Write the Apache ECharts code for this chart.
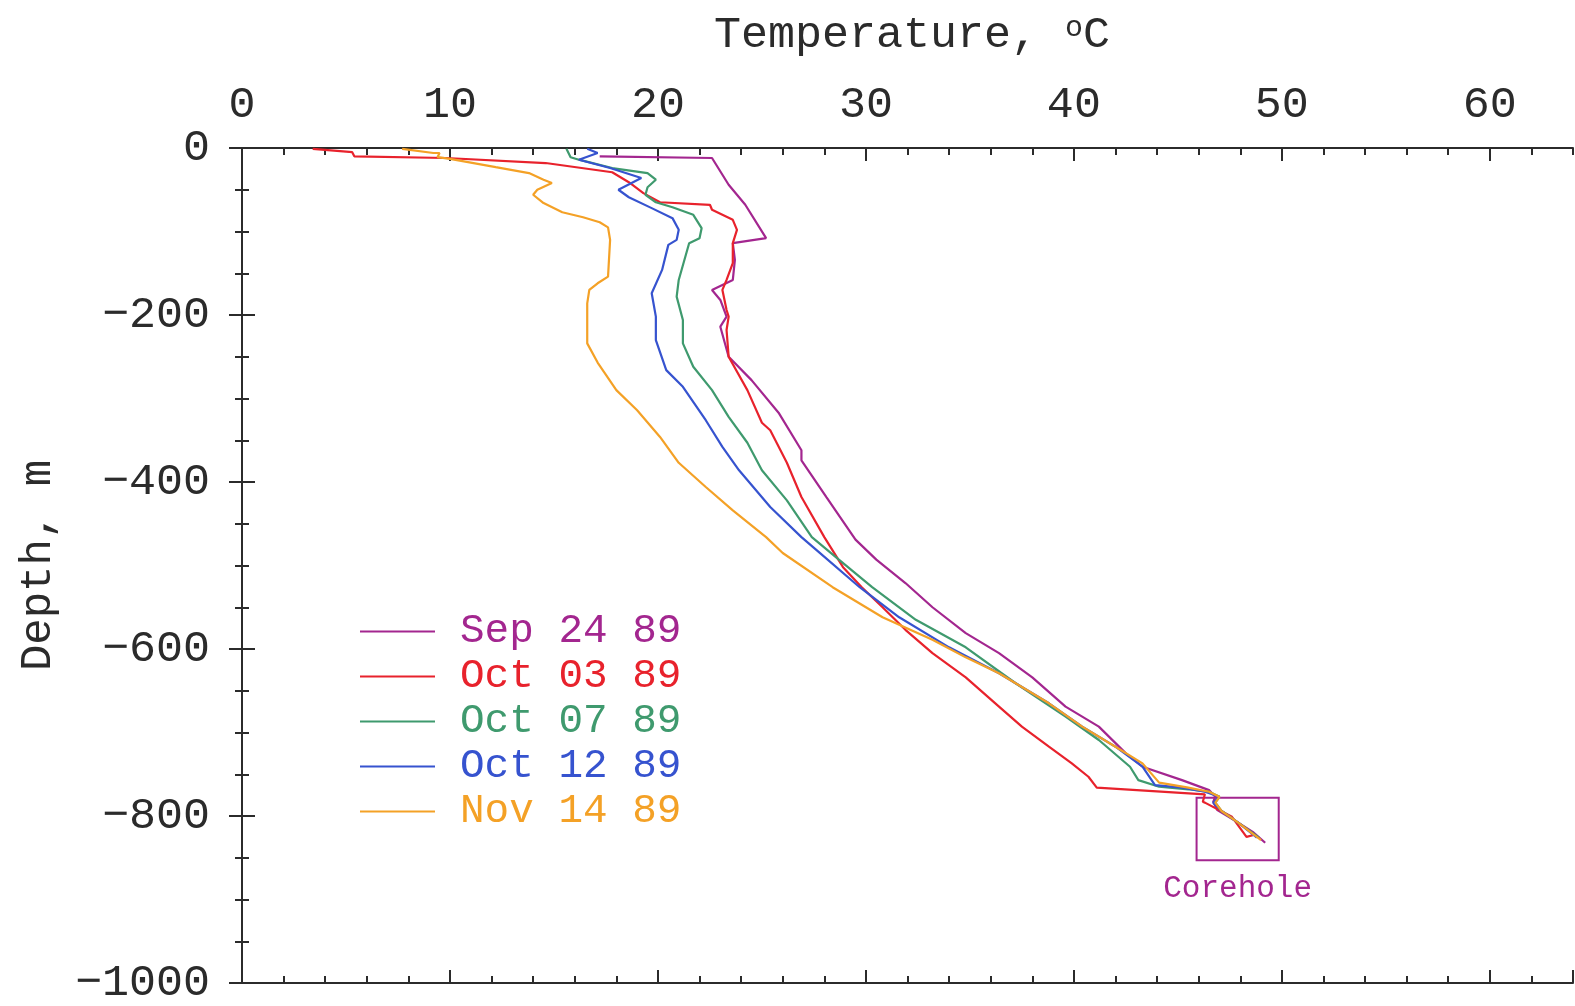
<!DOCTYPE html>
<html>
<head>
<meta charset="utf-8">
<script src="https://cdn.jsdelivr.net/npm/echarts@6/dist/echarts.min.js"></script>
<style>
  html, body { margin: 0; padding: 0; background: #fff; }
  #chart { width: 1575px; height: 1006px; }
</style>
</head>
<body>
<div id="chart"></div>
<script>
// temperature (C), depth (m) pairs
var sep24 = [[17.2,-10],[22.6,-12],[23.4,-44],[24.2,-68],[25.2,-108],[23.6,-114],[23.7,-134],[23.6,-158],
  [22.6,-170],[23.0,-182],[23.3,-202],[23.0,-214],[23.4,-250],[24.5,-278],[25.8,-317],[26.9,-362],[26.9,-374],
  [28.1,-418],[29.5,-469],[30.5,-493],[31.9,-521],[33.2,-550],[34.8,-581],[36.4,-605],[38.0,-634],[39.6,-669],
  [41.2,-693],[42.5,-725],[43.3,-741],[45.2,-757],[46.5,-769],[46.8,-777],[46.7,-783],[46.9,-793],[47.9,-808],
  [48.6,-819],[49.2,-832]];
var oct03 = [[3.4,-1],[5.3,-5],[5.4,-10],[9.8,-12],[14.6,-18],[17.8,-29],[18.6,-41],[19.3,-54],[20.1,-65],
  [22.5,-68],[22.6,-74],[23.6,-86],[23.8,-98],[23.6,-114],[23.6,-138],[23.3,-158],[23.1,-170],[23.3,-194],
  [23.4,-202],[23.3,-218],[23.4,-250],[24.3,-290],[25.0,-329],[25.4,-338],[26.2,-377],[26.9,-418],[28.0,-466],
  [28.9,-502],[29.8,-526],[30.8,-550],[31.9,-577],[33.2,-605],[34.8,-634],[36.4,-669],[37.5,-693],[38.8,-717],
  [39.9,-737],[40.7,-753],[41.1,-766],[46.3,-774],[46.2,-783],[46.3,-784],[47.6,-801],[48.3,-825],[48.6,-823]];
var oct07 = [[15.6,-1],[15.8,-11],[16.2,-14],[17.8,-24],[19.5,-30],[19.9,-38],[19.5,-47],[19.4,-56],[19.9,-65],
  [20.7,-71],[21.7,-80],[22.1,-96],[22.0,-108],[21.5,-114],[21.0,-158],[20.9,-178],[21.2,-206],[21.2,-234],
  [21.7,-262],[22.6,-290],[23.4,-322],[24.3,-353],[25.0,-386],[26.2,-422],[27.4,-466],[28.7,-493],[30.3,-526],
  [32.4,-565],[34.8,-598],[37.2,-641],[39.6,-681],[41.2,-709],[42.7,-741],[43.1,-757],[44.1,-765],[45.5,-768],
  [46.5,-771],[47.0,-777],[46.8,-784],[47.1,-794],[47.9,-808],[48.9,-826]];
var oct12 = [[16.6,-1],[17.1,-6],[16.2,-14],[17.7,-24],[19.2,-36],[18.1,-50],[18.6,-59],[19.7,-72],[20.7,-84],
  [21.0,-98],[20.9,-110],[20.5,-116],[20.2,-146],[19.7,-174],[19.9,-202],[19.9,-230],[20.4,-266],[21.2,-286],
  [22.3,-326],[23.1,-358],[23.9,-386],[25.4,-430],[26.9,-466],[27.6,-481],[29.7,-526],[31.6,-562],[34.0,-598],
  [36.4,-629],[38.8,-665],[40.4,-693],[42.0,-717],[43.3,-741],[43.9,-763],[45.2,-766],[46.3,-771],[47.0,-777],
  [46.7,-784],[47.1,-794],[47.9,-808],[48.8,-826]];
var nov14 = [[7.7,-1],[9.2,-6],[9.5,-6],[9.4,-11],[10.0,-13],[12.2,-23],[13.8,-30],[14.5,-38],[14.9,-42],
  [14.2,-50],[14.0,-56],[14.5,-66],[15.4,-77],[16.4,-83],[17.2,-89],[17.6,-95],[17.7,-110],[17.6,-154],
  [17.1,-162],[16.7,-170],[16.6,-186],[16.6,-234],[17.1,-257],[18.0,-290],[19.0,-314],[20.1,-346],[21.0,-377],
  [22.3,-406],[23.6,-434],[25.2,-466],[26.0,-485],[28.4,-526],[30.8,-562],[33.2,-589],[34.8,-610],[36.4,-629],
  [38.8,-665],[40.4,-693],[42.0,-717],[43.3,-737],[44.1,-760],[45.5,-766],[46.5,-771],[47.0,-777],[46.8,-784],
  [47.1,-794],[47.9,-808],[49.0,-829]];

var seriesNames = ['Sep 24 89', 'Oct 03 89', 'Oct 07 89', 'Oct 12 89', 'Nov 14 89'];
var seriesColors = ['#a3268f', '#e8222c', '#3f9a6e', '#3653cf', '#f4a126'];
var seriesData = [sep24, oct03, oct07, oct12, nov14];

// corehole box: [tempMin, depthTop, tempMax, depthBottom]
var coreholeBox = [45.9, -778, 49.85, -853];

var FONT = 'Liberation Mono';
var INK = '#2b2b2b';

var myChart = echarts.init(document.getElementById('chart'));

function xAx(pos, interval, len, labels, line){
    return {
        type: 'value', position: pos, min: 0, max: 64, interval: interval,
        axisLine: { show: line, lineStyle: { color: INK, width: 2 } },
        axisTick: { show: true, inside: true, length: len, lineStyle: { color: INK, width: 2 } },
        axisLabel: { show: labels, showMaxLabel: false, margin: 20, color: INK,
            fontFamily: FONT, fontSize: 45 },
        splitLine: { show: false }
    };
}
function yAx(pos, labels){
    return {
        type: 'value', position: pos, min: -1000, max: 0, interval: 200,
        axisLine: { show: true, lineStyle: { color: INK, width: 2 } },
        axisTick: { show: true, inside: true, length: 13, lineStyle: { color: INK, width: 2 } },
        minorTick: { show: true, splitNumber: 4, length: 7, lineStyle: { color: INK, width: 2 } },
        axisLabel: { show: labels, margin: 32, color: INK, fontFamily: FONT, fontSize: 45,
            formatter: function(v){ return String(v).replace('-', '\u2212'); } },
        splitLine: { show: false },
        name: labels ? 'Depth, m' : '',
        nameLocation: 'middle',
        nameGap: 182,
        nameTextStyle: { color: INK, fontFamily: FONT, fontSize: 44 }
    };
}

var series = seriesNames.map(function(n, i){
    var s = {
        name: n,
        type: 'line',
        data: seriesData[i],
        symbol: 'none',
        smooth: false,
        lineStyle: { color: seriesColors[i], width: 2.2 },
        itemStyle: { color: seriesColors[i] },
        z: 3 + i
    };
    if (i === 0) {
        s.markArea = {
            silent: true,
            itemStyle: { color: 'rgba(0,0,0,0)', borderColor: seriesColors[0], borderWidth: 2 },
            label: { show: true, position: 'bottom', distance: 12, color: seriesColors[0],
                fontFamily: FONT, fontSize: 31 },
            data: [[
                { name: 'Corehole', xAxis: coreholeBox[0], yAxis: coreholeBox[1] },
                { xAxis: coreholeBox[2], yAxis: coreholeBox[3] }
            ]]
        };
    }
    return s;
});

var option = {
    animation: false,
    backgroundColor: '#fff',
    title: {
        text: 'Temperature, {s|o}C',
        left: 907,
        textAlign: 'center',
        top: 8,
        textStyle: {
            color: INK, fontFamily: FONT, fontSize: 45, fontWeight: 'normal',
            rich: { s: { fontFamily: FONT, fontSize: 30, color: INK, verticalAlign: 'top', padding: [0, 0, 14, 0] } }
        }
    },
    legend: {
        orient: 'vertical',
        left: 355,
        top: 604,
        icon: 'rect',
        itemWidth: 75,
        itemHeight: 2,
        itemGap: 0,
        textStyle: { fontFamily: FONT, fontSize: 41, lineHeight: 45, padding: [0, 0, 0, 20] },
        data: seriesNames.map(function(n, i){
            return { name: n, textStyle: { color: seriesColors[i] } };
        })
    },
    grid: { left: 242, top: 148, right: 2, bottom: 23, containLabel: false },
    xAxis: [
        xAx('top', 10, 13, true, true),
        xAx('top', 2, 7, false, false),
        xAx('bottom', 10, 13, false, true),
        xAx('bottom', 2, 7, false, false)
    ],
    yAxis: [ yAx('left', true), yAx('right', false) ],
    series: series
};
myChart.setOption(option);
</script>
</body>
</html>
